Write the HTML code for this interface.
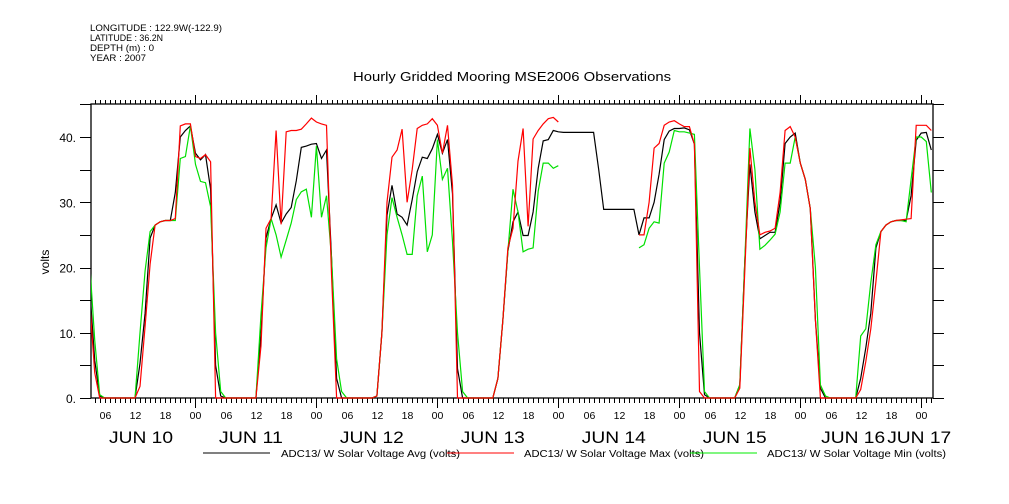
<!DOCTYPE html>
<html><head><meta charset="utf-8"><style>
html,body{margin:0;padding:0;background:#fff;}
svg{display:block;font-family:"Liberation Sans",sans-serif;}
</style></head><body>
<svg id="chart" width="1009" height="504" viewBox="0 0 1009 504" xmlns="http://www.w3.org/2000/svg">
<rect width="1009" height="504" fill="#fff"/>
<g font-size="9.5" fill="#000">
<text x="90" y="31" textLength="132" lengthAdjust="spacingAndGlyphs">LONGITUDE : 122.9W(-122.9)</text>
<text x="90" y="41" textLength="73" lengthAdjust="spacingAndGlyphs">LATITUDE : 36.2N</text>
<text x="90" y="51" textLength="64" lengthAdjust="spacingAndGlyphs">DEPTH (m) : 0</text>
<text x="90" y="61" textLength="56" lengthAdjust="spacingAndGlyphs">YEAR : 2007</text>
</g>
<text x="353" y="81" textLength="318" lengthAdjust="spacingAndGlyphs" font-size="13">Hourly Gridded Mooring MSE2006 Observations</text>
<text transform="translate(49,262) rotate(-90)" text-anchor="middle" font-size="12">volts</text>
<defs><clipPath id="plotclip"><rect x="91" y="104" width="842" height="296"/></clipPath></defs>
<g id="axes"></g>
<g id="series" clip-path="url(#plotclip)"></g>
<g font-size="10">
<line x1="203" y1="453" x2="270" y2="453" stroke="#000"/>
<text x="281" y="457" textLength="179" lengthAdjust="spacingAndGlyphs">ADC13/ W Solar Voltage Avg (volts)</text>
<line x1="447" y1="453" x2="514" y2="453" stroke="#f00"/>
<text x="524" y="457" textLength="180" lengthAdjust="spacingAndGlyphs">ADC13/ W Solar Voltage Max (volts)</text>
<line x1="690" y1="453" x2="757" y2="453" stroke="#0e0"/>
<text x="767" y="457" textLength="179" lengthAdjust="spacingAndGlyphs">ADC13/ W Solar Voltage Min (volts)</text>
</g>
</svg>
<script>
// hours since JUN 10 00:00, starting at hour 3
const startHour = 3;
const avgValues = [17,5.8,0.3, 0,0,0,0,0,0,0, 5.3,13,24.5,26.5,27,27.2,27.2,31.5,40,41,41.7,37.5,36.5,37.3,32,5,0.3,
 0,0,0,0,0,0,0, 10,24.5,27.5,29.6,26.8,28.2,29.2,33.3,38.4,38.6,38.9,39,36.7,38,21.6,3,0, 0,0,0,0,0,0,
 0.3,10,28,32.6,28.2,27.7,26.5,30.4,34.7,36.9,36.7,38.2,40.4,37.5,39.6,31.3,4.5,0, 0,0,0,0,0,0,
 3,12,22.5,27,28.5,24.9,24.9,28.5,35.2,39.4,39.6,41,40.8, 40.7,40.7,40.7,40.7,40.7,40.7,40.7,35,28.9, 28.9,28.9,28.9,28.9,28.9,28.9,
 25,27.6,27.6,30,34.3,39.6,40.9,41.3,41.3,41.4,41.1,38.9,10,0.5, 0,0,0,0,0,0,
 2,21,35.8,28.5,24.4,24.9,25.4,25.4,30,39,40,40.6,36,33.5,29,12,1.5,0, 0,0,0,0,0,0,
 3,7.7,13,23,25.5,26.5,27,27.2,27.2,27.2,31,39.5,40.6,40.7,38];
const maxValues = [15,3.9,0, 0,0,0,0,0,0,0, 1.8,11,20.5,26.5,27,27.2,27.2,27.5,41.7,42,42,37,36.7,37.3,36.2,0,0,
 0,0,0,0,0,0,0, 8,26,27.5,41,26.6,40.8,41,41,41.2,42,42.9,42.3,42,41.8,19,0,0, 0,0,0,0,0,0,
 0.3,10,30,36.9,38,41.2,30,35,41.3,41.8,42,42.8,41.8,37.5,41.8,32.6,0,0, 0,0,0,0,0,0,
 3,12,23,26,36.3,41.3,26.3,39.7,41,42,42.8,43,42.3, null,null,null,null,null,null,null,null,null, null,null,null,null,null,null,
 25,25,30,38.3,39,41.8,42.3,42.5,42,41.6,41.6,38.9,1,0, 0,0,0,0,0,0,
 1.5,19.5,38.3,30,25,25.4,25.6,26,31.5,41,41.6,40,36,33.5,29,12,0,0, 0,0,0,0,0,0,
 1.3,5.6,10.6,17.8,25.5,26.5,27,27.2,27.3,27.4,27.5,41.8,41.8,41.8,41];
const minValues = [21,8.9,0.5, 0,0,0,0,0,0,0, 10,19.5,25.5,26.5,27,27.2,27.2,27.2,36.7,37,41.7,35.8,33.2,33,29.3,10,1,
 0,0,0,0,0,0,0, 12.8,23,27.5,25,21.6,24.2,26.8,30.4,31.6,32,27.7,38.6,27.7,31,21.6,6,1, 0,0,0,0,0,0,
 0.3,10,25,30.7,27.7,25,22,22,31,34,22.4,25,39.6,33.5,35.2,24,10,1, 0,0,0,0,0,0,
 3,12,22.5,32,28.5,22.4,22.8,23,31.7,36,36,35.2,35.6, null,null,null,null,null,null,null,null,null, null,null,null,null,null,null,
 23,23.5,26,27,26.8,36,37.7,41,40.8,40.8,40.6,40.4,20,1, 0,0,0,0,0,0,
 2,21,41.3,35,22.8,23.4,24.2,25.1,28.5,36,36,40,36,33.5,29,20,2,0.3, 0,0,0,0,0,0,
 9.5,10.6,17.7,23.5,25.5,26.5,27,27.2,27.2,27,33.5,40,40,39.3,31.5];
const yTickValues = [0,10,20,30,40];
const yTickLabels = ["0.","10.","20.","30.","40."];
const hourTickLabels = ["00","06","12","18"];
const dayLabels = ["JUN 10","JUN 11","JUN 12","JUN 13","JUN 14","JUN 15","JUN 16","JUN 17"];
const dayLabelCenters = [13.2,35,59,83,107,131,154.5,167.6];

const NS="http://www.w3.org/2000/svg";
const X0=91,X1=933,Y0=398,Y1=104;
function xScale(h){return 74.5+5.04*h;}
function yScale(v){return 398-v*6.525;}
const axes=document.getElementById('axes');
const series=document.getElementById('series');
function mk(tag,attrs,parent){const e=document.createElementNS(NS,tag);for(const k in attrs)e.setAttribute(k,attrs[k]);parent.appendChild(e);return e;}

const frame=mk('rect',{x:X0,y:Y1,width:X1-X0,height:Y0-Y1,fill:'none',stroke:'#000','stroke-width':1.3},axes);



for(let h=4;h<=170;h++){
  const x=Math.round(xScale(h))+0.5;
  if(x<X0||x>X1)continue;
  const major=(h%24===0);
  const tb=mk('line',{x1:x,y1:Y0,x2:x,y2:Y0+(major?10:5),stroke:'#000'},axes);
  
  
  const tt=mk('line',{x1:x,y1:Y1,x2:x,y2:Y1-(major?9:4),stroke:'#000'},axes);
  
  
  if(h%6===0){
    const t=mk('text',{x:x,y:419,'text-anchor':'middle','font-size':10.5},axes);
    t.textContent=hourTickLabels[(h%24)/6];
    
    
  }
}
dayLabels.forEach((d,i)=>{
  const cx=xScale(dayLabelCenters[i]);
  const t=mk('text',{x:cx-32,y:443,'font-size':16.5,textLength:64,lengthAdjust:'spacingAndGlyphs'},axes);
  t.textContent=d;
  
  
});
for(let v=0;v<=45;v+=5){
  const y=Math.round(yScale(v))+0.5;
  const l=mk('line',{x1:X0-11,y1:y,x2:X0,y2:y,stroke:'#000'},axes);
  
  
  const r=mk('line',{x1:X1,y1:y,x2:X1+11,y2:y,stroke:'#000'},axes);
  
  
}
yTickValues.forEach((v,i)=>{
  const t=mk('text',{x:76,y:yScale(v)+5,'text-anchor':'end','font-size':12},axes);
  t.textContent=yTickLabels[i];
  
  
});

function draw(values,color,name){
  let seg=[];const segs=[];
  values.forEach((v,i)=>{
    if(v===null){if(seg.length)segs.push(seg);seg=[];return;}
    seg.push(xScale(startHour+i).toFixed(1)+','+yScale(v).toFixed(1));
  });
  if(seg.length)segs.push(seg);
  segs.forEach(s=>{
    const p=mk('polyline',{points:s.join(' '),fill:'none',stroke:color,'stroke-width':1.2},series);
    
    
  });
}
draw(avgValues,'#000','avg-voltage-line');
draw(minValues,'#00e000','min-voltage-line');
draw(maxValues,'#f00','max-voltage-line');
</script>
</body></html>
